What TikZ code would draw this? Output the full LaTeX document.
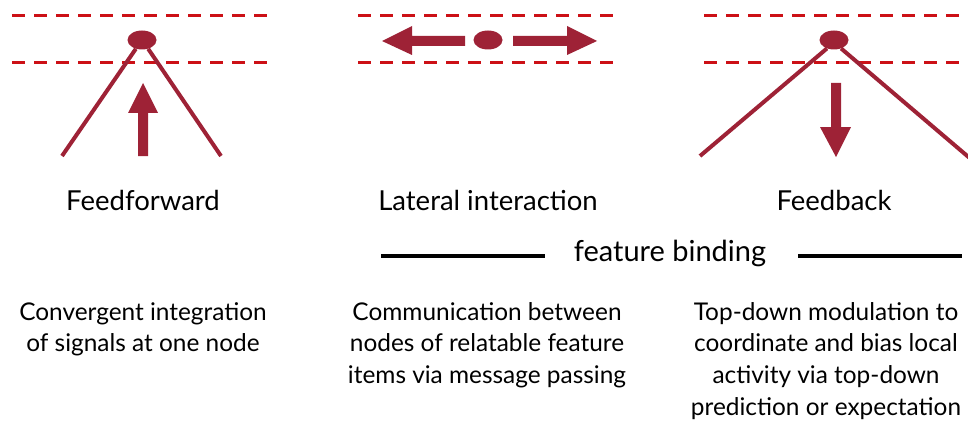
\documentclass[tikz,border=0pt]{standalone}
\usepackage{fontspec}
\setmainfont{Lato}
\usetikzlibrary{shapes.geometric}
\definecolor{crimson}{RGB}{158,34,54}
\definecolor{dashred}{RGB}{204,16,22}
\tikzset{
  layer/.style={draw=dashred, line width=3pt, dash pattern=on 13pt off 9pt},
  unit/.style={ellipse, fill=crimson, inner sep=0pt, minimum width=29pt, minimum height=19pt},
  cone/.style={draw=crimson, line width=4pt},
  bigarrow/.style={fill=crimson, draw=none},
  title/.style={font=\fontsize{27.5}{32}\selectfont, anchor=center, inner sep=0pt},
  bindlabel/.style={font=\fontsize{29}{34}\selectfont, anchor=center, inner sep=0pt},
  desc/.style={font=\fontsize{24.4}{31.7}\selectfont, align=center, anchor=north, inner sep=0pt},
  rule/.style={draw=black, line width=3.5pt}
}
\begin{document}
\begin{tikzpicture}[x=1pt, y=-1pt]
\useasboundingbox (0,0) rectangle (968,425);

% ---- Feedforward panel ----
\draw[layer] (12,16) -- (268,16);
\draw[layer] (12,63) -- (268,63);
\coordinate (ffL) at (62,156);
\coordinate (ffR) at (221,156);
\node[unit] (ff) at (142,40) {};
\draw[cone] (ff.235) -- (ffL);
\draw[cone] (ff.305) -- (ffR);
\fill[bigarrow] (138,156) -- (148,156) -- (148,113) -- (158,113) -- (143,83) -- (128,113) -- (138,113) -- cycle;

% ---- Lateral interaction panel ----
\draw[layer] (358,16) -- (614,16);
\draw[layer] (358,63) -- (614,63);
\node[unit] (lat) at (488,40) {};
\fill[bigarrow] (465,36) -- (412,36) -- (412,26) -- (382,41) -- (412,55) -- (412,46) -- (465,46) -- cycle;
\fill[bigarrow] (513,36) -- (567,36) -- (567,26) -- (597,41) -- (567,55) -- (567,46) -- (513,46) -- cycle;

% ---- Feedback panel ----
\draw[layer] (704,16) -- (968,16);
\draw[layer] (704,63) -- (968,63);
\coordinate (fbL) at (700,156);
\coordinate (fbR) at (972,160);
\node[unit] (fb) at (834,40) {};
\draw[cone] (fb.230) -- (fbL);
\draw[cone] (fb.310) -- (fbR);
\fill[bigarrow] (831,83) -- (841,83) -- (841,127) -- (851,127) -- (836,157) -- (820,127) -- (831,127) -- cycle;

% ---- titles ----
\node[title] (tff) at (143,200) {Feedforward};
\node[title] (tlat) at (488,200) {Lateral interaction};
\node[title] (tfb) at (834,200) {Feedback};

% ---- feature binding bracket ----
\node[bindlabel] (bind) at (670,253) {feature binding};
\coordinate (bl) at (381,256);
\coordinate (br) at (962,256);
\draw[rule] (bl) -- (545,256);
\draw[rule] (798,256) -- (br);

% ---- descriptions ----
\node[desc] (dff) at (143,302) {Convergent integration\\of signals at one node};
\node[desc] (dlat) at (487,302) {Communication between\\nodes of relatable feature\\items via message passing};
\node[desc] (dfb) at (826,302) {Top-down modulation to\\coordinate and bias local\\activity via top-down\\prediction or expectation};
\end{tikzpicture}
\end{document}
